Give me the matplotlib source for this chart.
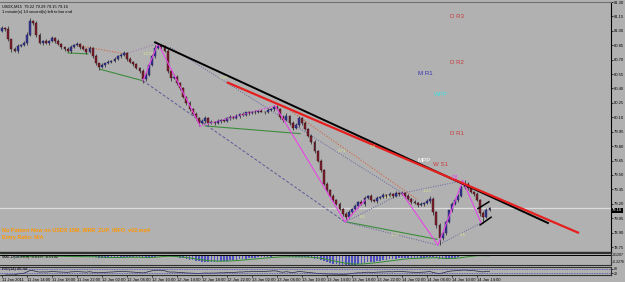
import numpy as np
import pandas as pd
import matplotlib
matplotlib.use('Agg')
import matplotlib.pyplot as plt
import matplotlib.transforms as mtransforms

plt.rcParams['font.family'] = ['Liberation Sans Narrow', 'Liberation Sans', 'DejaVu Sans']

# USDX M15 chart - close prices (one per half hour)
closes = [81.03, 81.02, 80.91, 80.81, 80.79, 80.84, 80.85, 80.87, 80.96, 81.10,
          81.08, 80.96, 80.87, 80.89, 80.87, 80.89, 80.93, 80.89, 80.86, 80.83,
          80.81, 80.79, 80.83, 80.85, 80.86, 80.83, 80.81, 80.78, 80.82, 80.74,
          80.66, 80.62, 80.64, 80.66, 80.68, 80.69, 80.71, 80.74, 80.75, 80.77,
          80.71, 80.68, 80.65, 80.61, 80.58, 80.50, 80.54, 80.64, 80.74, 80.82,
          80.84, 80.83, 80.79, 80.58, 80.51, 80.52, 80.46, 80.40, 80.31, 80.25,
          80.19, 80.13, 80.09, 80.04, 80.06, 80.09, 80.04, 80.05, 80.04, 80.06,
          80.07, 80.06, 80.09, 80.10, 80.09, 80.11, 80.13, 80.12, 80.15, 80.14,
          80.16, 80.15, 80.17, 80.16, 80.15, 80.18, 80.19, 80.21, 80.19, 80.10,
          80.07, 80.11, 80.04, 79.99, 80.02, 80.09, 80.04, 79.98, 79.91, 79.84,
          79.75, 79.65, 79.55, 79.41, 79.34, 79.28, 79.24, 79.20, 79.15, 79.09,
          79.06, 79.11, 79.15, 79.18, 79.22, 79.20, 79.26, 79.28, 79.24, 79.23,
          79.26, 79.27, 79.29, 79.28, 79.30, 79.28, 79.31, 79.30, 79.31, 79.28,
          79.25, 79.22, 79.21, 79.19, 79.20, 79.21, 79.23, 79.25, 79.11, 78.98,
          78.84, 78.90, 79.01, 79.13, 79.20, 79.24, 79.28, 79.37, 79.41, 79.36,
          79.32, 79.30, 79.24, 79.10, 79.06, 79.14, 79.16]
first_open = 81.00
# wick length above / below the body, in hundredths
wick_hi = [2, 1, 3, 1, 2, 2, 1, 2, 3, 3,
           1, 2, 2, 1, 2, 1, 2, 1, 2, 1,
           1, 2, 2, 1, 2, 1, 2, 1, 2, 1,
           2, 1, 2, 1, 2, 1, 2, 1, 2, 2,
           1, 2, 1, 2, 1, 2, 3, 2, 2, 3,
           3, 1, 2, 2, 1, 3, 2, 1, 2, 1,
           2, 1, 2, 1, 2, 2, 1, 2, 1, 2,
           1, 2, 1, 2, 1, 2, 1, 2, 1, 2,
           1, 2, 1, 2, 1, 2, 1, 2, 2, 1,
           2, 3, 1, 2, 2, 2, 1, 2, 1, 2,
           2, 1, 2, 1, 2, 1, 2, 1, 2, 1,
           2, 2, 1, 2, 1, 2, 2, 1, 2, 1,
           2, 1, 2, 1, 2, 1, 2, 1, 2, 1,
           2, 1, 2, 1, 2, 1, 2, 3, 2, 1,
           2, 1, 2, 1, 2, 2, 2, 3, 4, 2,
           2, 1, 2, 1, 2, 2, 1]
wick_lo = [1, 2, 2, 3, 1, 2, 1, 1, 2, 1,
           2, 2, 1, 2, 1, 2, 1, 2, 1, 2,
           2, 1, 2, 1, 1, 2, 1, 2, 1, 2,
           2, 3, 1, 2, 1, 2, 1, 1, 2, 1,
           2, 1, 2, 1, 2, 4, 2, 1, 1, 2,
           1, 2, 1, 2, 3, 1, 2, 2, 1, 2,
           2, 1, 2, 3, 1, 2, 2, 1, 2, 1,
           2, 1, 1, 2, 1, 1, 2, 1, 1, 2,
           1, 2, 1, 1, 2, 1, 1, 2, 1, 2,
           2, 1, 2, 2, 1, 2, 2, 1, 2, 2,
           2, 2, 2, 1, 2, 1, 2, 1, 2, 2,
           3, 1, 2, 1, 2, 1, 2, 1, 2, 1,
           2, 1, 1, 2, 1, 2, 1, 2, 1, 2,
           1, 2, 1, 2, 1, 2, 1, 2, 3, 3,
           7, 2, 2, 1, 2, 1, 2, 1, 2, 2,
           1, 2, 1, 3, 6, 1, 2]

time_labels = ['11 Jan 2011', '11 Jan 14:00', '11 Jan 18:00', '11 Jan 22:00', '12 Jan 02:00',
               '12 Jan 06:00', '12 Jan 10:00', '12 Jan 14:00', '12 Jan 18:00', '12 Jan 22:00',
               '13 Jan 02:00', '13 Jan 06:00', '13 Jan 10:00', '13 Jan 14:00', '13 Jan 18:00',
               '13 Jan 22:00', '14 Jan 02:00', '14 Jan 06:00', '14 Jan 10:00', '14 Jan 14:00']
label_every = 8
price_ticks = [81.30, 81.15, 81.00, 80.85, 80.70, 80.55, 80.40, 80.25, 80.10, 79.95,
               79.80, 79.65, 79.50, 79.35, 79.20, 79.05, 78.90, 78.75]
bid = 79.16

# drawn objects: (bar, price) end points
trend_black = [(49.0, 80.88), (174.7, 79.00)]
trend_red = [(72.3, 80.46), (184.3, 78.90)]
chan_up = [(152.3, 79.15), (155.8, 79.22)]
chan_dn = [(153.0, 78.98), (156.5, 79.06)]
zz_solid = [[(45.1, 80.48), (49.9, 80.87), (63.4, 80.01)],
            [(87.4, 80.22), (109.8, 79.01), (116.2, 79.24)],
            [(128.0, 79.31), (139.5, 78.77), (147.5, 79.44), (153.3, 79.00)]]
zz_dotted = [(63.4, 80.01), (87.4, 80.22)]
green_lines = [[(21.1, 80.77), (27.5, 80.76)], [(31.4, 80.60), (45.1, 80.48)],
               [(65.0, 80.01), (95.4, 79.93)], [(110.4, 79.01), (139.2, 78.83)]]
slate_dashed = [[(45.1, 80.48), (109.8, 79.01)]]
slate_dotted = [[(109.8, 79.01), (128.0, 79.31)], [(128.0, 79.31), (147.5, 79.44)],
                [(109.8, 79.01), (139.5, 78.77)], [(139.5, 78.77), (153.3, 79.00)],
                [(53.8, 80.83), (133.1, 79.21)]]
red_dotted = [[(25.6, 80.84), (39.4, 80.76)], [(92.2, 80.17), (133.1, 79.24)]]
purple_dotted = [[(39.4, 80.76), (49.9, 80.87)]]

pivots = [('D R3', 143.4, 81.15, '#c83c3c'), ('D R2', 143.4, 80.675, '#c83c3c'),
          ('M R1', 133.0, 80.56, '#3232b4'), ('WPP', 138.2, 80.34, '#46dcdc'),
          ('D R1', 143.4, 79.93, '#c83c3c'), ('MPP', 133.0, 79.65, 'white'),
          ('W S1', 138.0, 79.61, '#c83c3c')]
fib_labels = [('1.272', 45.0, 80.76), ('0.27', 69.8, 80.51), ('0.71', 107.5, 79.75),
              ('1.6', 117.5, 79.79), ('0.5', 114.6, 79.06), ('1.27', 122.0, 79.27),
              ('1.13', 124.5, 78.87), ('0.5', 146.5, 78.87), ('1.13', 134.5, 79.33)]

# ---- build OHLC
c = np.array(closes)
o = np.r_[first_open, c[:-1]]
h = np.maximum(o, c) + np.array(wick_hi) / 100.0
l = np.minimum(o, c) - np.array(wick_lo) / 100.0
n = len(c)
bars = np.arange(n)

bg = '#b1b1b1'
fig = plt.figure(figsize=(6.25, 2.82), dpi=100, facecolor=bg)
W, H = 625.0, 282.0
xmin, xmax = -0.64, (611 - 2) / 3.125

ax = fig.add_axes([0, (H - 252) / H, 611 / W, 250 / H], facecolor=bg)
ax.set_xlim(xmin, xmax)
ax.set_ylim(78.698, 81.284)

# bid line
ax.axhline(bid, color='#dcdcdc', lw=0.9, zorder=1)

# candles
up = c >= o
ax.vlines(bars, l, h, color='#202020', lw=0.5, zorder=3)
body_h = np.maximum(np.abs(c - o), 0.004)
ax.bar(bars[up], body_h[up], bottom=np.minimum(o, c)[up], width=0.62,
       color='#33338f', edgecolor='#1e1e5a', lw=0.3, zorder=4)
ax.bar(bars[~up], body_h[~up], bottom=np.minimum(o, c)[~up], width=0.62,
       color='#7c1e2c', edgecolor='#3c0c14', lw=0.3, zorder=4)


def seg(pts, **kw):
    xs, ys = zip(*pts)
    ax.plot(xs, ys, **kw)


for s in green_lines:
    seg(s, color='#3c8c3c', lw=0.8, zorder=2)
for s in slate_dashed:
    seg(s, color='#5a5a96', lw=0.7, ls=(0, (3, 2)), zorder=2)
for s in slate_dotted:
    seg(s, color='#6464a0', lw=0.7, ls=(0, (1, 1.5)), zorder=2)
for s in red_dotted:
    seg(s, color='#d2643c', lw=0.8, ls=(0, (1, 1.5)), zorder=2)
for s in purple_dotted:
    seg(s, color='#a07ab4', lw=0.8, ls=(0, (1, 1.5)), zorder=2)
for s in zz_solid:
    seg(s, color='#e646e6', lw=0.8, zorder=5)
seg(zz_dotted, color='#e646e6', lw=0.9, ls=(0, (1, 1.2)), zorder=5)

seg(trend_black, color='black', lw=1.4, zorder=6)
seg(trend_red, color='#e61e1e', lw=1.6, zorder=6)
seg(chan_up, color='black', lw=1.1, zorder=6)
seg(chan_dn, color='black', lw=1.1, zorder=6)

for t, bx, py, col in pivots:
    ax.text(bx, py, t, color=col, fontsize=4.4, ha='left', va='center', zorder=7)
for t, bx, py in fib_labels:
    ax.text(bx, py, t, color='#d8e68c', fontsize=3.2, ha='left', va='center', zorder=7)
ax.text(144.0, 79.47, 'DB', color='#e646e6', fontsize=3.4, ha='left', va='center', zorder=7)

# header / info text
ax.text(0.004, 0.99, 'USDX,M15  79.22 79.29 79.15 79.16', transform=ax.transAxes,
        fontsize=2.9, va='top', ha='left', color='black')
ax.text(0.004, 0.967, '1 minute(s) 14 second(s) left to bar end', transform=ax.transAxes,
        fontsize=2.9, va='top', ha='left', color='black')
ax.text(0.004, 0.085, 'No Pattern Now on USDX 15M, WRR_ZUP_INFO_v02.mq4', transform=ax.transAxes,
        fontsize=3.9, va='center', ha='left', color='#ff9600', fontweight='bold',
        family=['Liberation Sans', 'DejaVu Sans'])
ax.text(0.004, 0.057, 'Entry Ratio: N/A', transform=ax.transAxes,
        fontsize=3.9, va='center', ha='left', color='#ff9600', fontweight='bold',
        family=['Liberation Sans', 'DejaVu Sans'])

# right price axis
ax.yaxis.tick_right()
ax.set_yticks(price_ticks)
ax.set_yticklabels(['%.2f' % p for p in price_ticks])
ax.tick_params(axis='y', labelsize=3.0, length=1.5, width=0.5, pad=0.8, colors='black')
ax.set_xticks([])
ax.spines['left'].set_visible(False)
ax.spines['right'].set_color('black')
ax.spines['right'].set_linewidth(0.8)
ax.spines['top'].set_color('#707070')
ax.spines['bottom'].set_color('#303030')
ax.spines['bottom'].set_linewidth(1.0)

tr = mtransforms.blended_transform_factory(ax.transAxes, ax.transData)
ax.text(1.002, bid - 0.03, '%.2f' % bid, transform=tr, fontsize=2.9, color='white', va='center',
        ha='left', bbox=dict(boxstyle='square,pad=0.12', fc='black', ec='none'), clip_on=False)

# ---- indicator panel 1 (MACD style)
s = pd.Series(c)
macd = s.ewm(span=12, adjust=False).mean() - s.ewm(span=26, adjust=False).mean()
signal = macd.ewm(span=9, adjust=False).mean()
ax1 = fig.add_axes([0, (H - 265) / H, 611 / W, 12 / H], facecolor=bg)
ax1.set_xlim(xmin, xmax)
ax1.set_ylim(-0.26, 0.06)
ax1.bar(bars, macd, width=0.55, color='#5050c0', lw=0)
ax1.plot(bars, signal, color='#2e8b2e', lw=0.7)
ax1.axhline(0, color='black', lw=0.7)
ax1.text(0.004, 0.8, 'MACD(12,26,9) %.4f %.4f' % (macd.iloc[-1], signal.iloc[-1]),
         transform=ax1.transAxes, fontsize=2.8, va='top', color='black')
ax1.set_xticks([])
ax1.yaxis.tick_right()
ax1.set_yticks([0.02, -0.17])
ax1.set_yticklabels(['0.1207', '-0.2276'])
ax1.tick_params(axis='y', labelsize=2.5, length=1.0, width=0.5, pad=0.6)
ax1.spines['left'].set_visible(False)
for sp in ['top', 'bottom', 'right']:
    ax1.spines[sp].set_color('#303030')

# ---- indicator panel 2 (RSI style)
d = s.diff()
gain = d.clip(lower=0).ewm(alpha=1 / 14, adjust=False).mean()
loss = (-d.clip(upper=0)).ewm(alpha=1 / 14, adjust=False).mean()
rsi = 100 - 100 / (1 + gain / loss.replace(0, np.nan))
ax2 = fig.add_axes([0, (H - 275) / H, 611 / W, 8 / H], facecolor=bg)
ax2.set_xlim(xmin, xmax)
ax2.set_ylim(0, 100)
ax2.plot(bars, rsi, color='#202040', lw=0.5)
ax2.axhline(80, color='#4646b4', lw=0.6, ls=(0, (1, 1)))
ax2.axhline(20, color='#4646b4', lw=0.6, ls=(0, (1, 1)))
ax2.text(0.004, 0.95, 'RSI(14) %.2f' % rsi.iloc[-1], transform=ax2.transAxes,
         fontsize=2.8, va='top', color='black')
ax2.yaxis.tick_right()
ax2.set_yticks([80, 20])
ax2.set_yticklabels(['80', '20'])
ax2.tick_params(axis='y', labelsize=2.6, length=1.2, width=0.5, pad=0.8)
tick_pos = bars[::label_every][:len(time_labels)]
ax2.set_xticks(tick_pos)
ax2.set_xticklabels(time_labels, ha='left')
ax2.tick_params(axis='x', labelsize=3.0, length=1.5, width=0.5, pad=0.8)
ax2.spines['left'].set_visible(False)
for sp in ['top', 'bottom', 'right']:
    ax2.spines[sp].set_color('#303030')

fig.savefig('out.png', dpi=100, facecolor=bg)
